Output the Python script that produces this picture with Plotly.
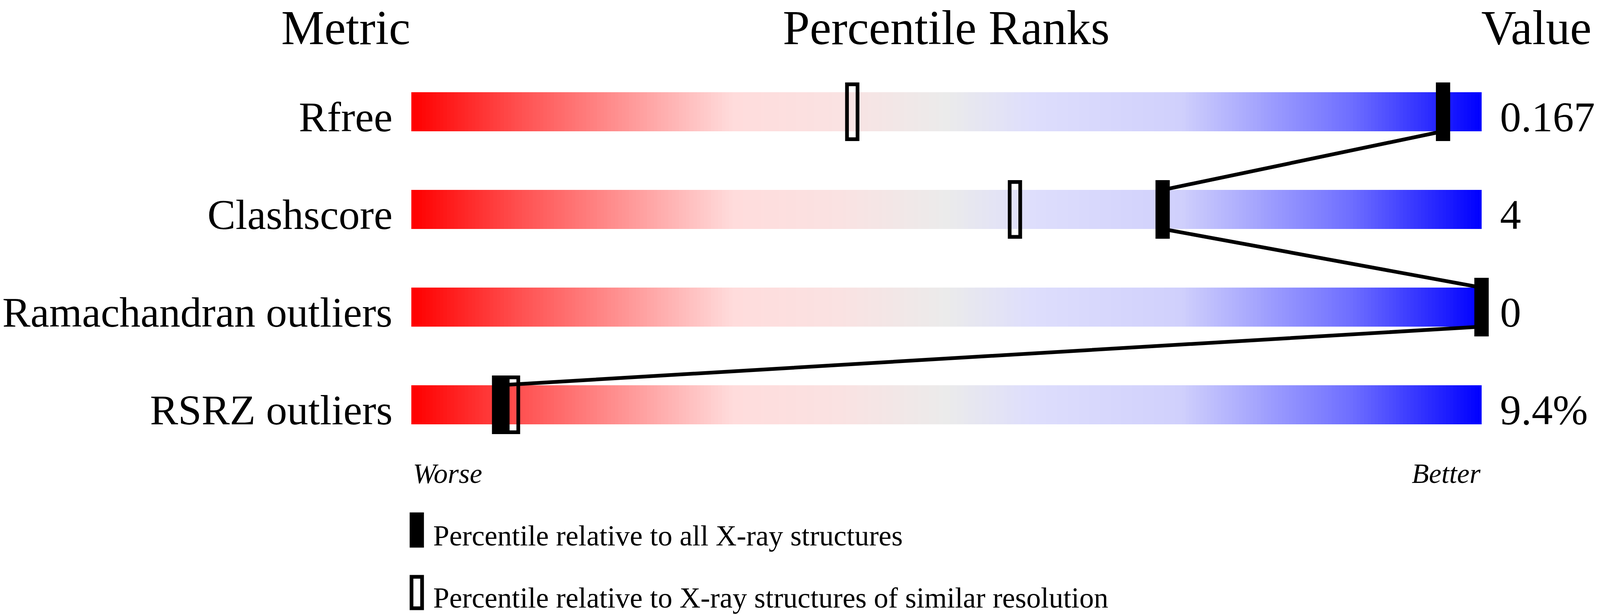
import numpy as np
import plotly.graph_objects as go

# data
metrics = ["Rfree", "Clashscore", "Ramachandran outliers", "RSRZ outliers"]
values = ["0.167", "4", "0", "9.4%"]
pct_all = [96.4, 70.2, 100.0, 8.2]        # percentile vs all X-ray structures
pct_similar = [41.2, 56.4, 100.0, 9.5]    # percentile vs similar resolution
headers = ["Metric", "Percentile Ranks", "Value"]
legend_labels = [
    "Percentile relative to all X-ray structures",
    "Percentile relative to X-ray structures of similar resolution",
]

# the browser viewport is 4096 px wide, so the 4485 px layout is squeezed sideways
W, H = 4096, 1574
K = W / 4485
X_LEFT_PX, PX_PER_PCT = 1153 * K, 30.0 * K   # bar 0..100
ROW0_PX, ROW_PX = 286, 250                   # row centres
BAR_HALF = 0.2
FONT = "Liberation Serif, Times New Roman, serif"

grad_scale = [
    [0.0, "rgb(255,0,0)"],
    [0.1, "rgb(255,80,80)"],
    [0.3, "rgb(255,220,220)"],
    [0.4, "rgb(250,226,226)"],
    [0.5, "rgb(235,235,235)"],
    [0.58, "rgb(222,222,252)"],
    [0.72, "rgb(208,208,252)"],
    [0.88, "rgb(110,110,255)"],
    [1.0, "rgb(0,0,255)"],
]


def y_px(py):
    return (py - ROW0_PX) / ROW_PX


fig = go.Figure()

n = 300
for i, m in enumerate(metrics):
    fig.add_trace(go.Heatmap(
        z=[np.linspace(0, 1, n)],
        x=np.linspace(0, 100, n + 1),
        y=[i - BAR_HALF, i + BAR_HALF],
        colorscale=grad_scale, zmin=0, zmax=1,
        showscale=False, hoverinfo="skip",
    ))

# connector through the "all structures" markers
lx, ly = [], []
for i, p in enumerate(pct_all):
    if i > 0:
        lx.append(p)
        ly.append(i - BAR_HALF)
    if i < len(pct_all) - 1:
        lx.append(p)
        ly.append(i + BAR_HALF)
fig.add_trace(go.Scatter(x=lx, y=ly, mode="lines", line=dict(color="black", width=9.5),
                         hoverinfo="skip", showlegend=False))

MW = 40 * K   # marker width


def solid(x, y, w=MW, h=150, dx=0):
    return dict(type="rect", xref="x", yref="y", xsizemode="pixel", ysizemode="pixel",
                xanchor=x, yanchor=y, x0=dx - w / 2, x1=dx + w / 2, y0=-h / 2, y1=h / 2,
                fillcolor="black", line_width=0, layer="above")


def hollow(x, y, w=MW, h=150, dx=0, b=9.5):
    return dict(type="rect", xref="x", yref="y", xsizemode="pixel", ysizemode="pixel",
                xanchor=x, yanchor=y, x0=dx - w / 2 + b / 2, x1=dx + w / 2 - b / 2,
                y0=-h / 2 + b / 2, y1=h / 2 - b / 2,
                fillcolor="rgba(0,0,0,0)", line=dict(color="black", width=b), layer="above")


shapes = []
for i in range(len(metrics)):
    shapes.append(solid(pct_all[i], i))
    shapes.append(hollow(pct_similar[i], i))
shapes.append(solid(0, y_px(1356.5), h=90, dx=14))
shapes.append(hollow(0, y_px(1516.5), h=90, dx=14))

ann = []
big, mid, wb, small = 124, 108, 72, 74
hdr_y = y_px(113 - 0.3375 * big)
ann.append(dict(x=0, y=hdr_y, text=headers[0], xanchor="right", font_size=big))
ann.append(dict(x=50, y=hdr_y, text=headers[1], xanchor="center", font_size=big))
ann.append(dict(x=100, y=hdr_y, text=headers[2], xanchor="left", xshift=-3, font_size=big))
for i, m in enumerate(metrics):
    yy = i + BAR_HALF - 0.3375 * mid / ROW_PX
    ann.append(dict(x=0, y=yy, text=m, xanchor="right", xshift=-46, font_size=mid))
    ann.append(dict(x=100, y=yy, text=values[i], xanchor="left", xshift=45, font_size=mid))
wb_y = y_px(1236 - 0.3375 * wb)
ann.append(dict(x=0, y=wb_y, text="<i>Worse</i>", xanchor="left", xshift=2, font_size=wb))
ann.append(dict(x=100, y=wb_y, text="<i>Better</i>", xanchor="right", xshift=0, font_size=wb))
ann.append(dict(x=0, y=y_px(1396 - 0.3375 * small), text=legend_labels[0],
                xanchor="left", xshift=54, font_size=small))
ann.append(dict(x=0, y=y_px(1555 - 0.3375 * small), text=legend_labels[1],
                xanchor="left", xshift=54, font_size=small))
for a in ann:
    a.update(xref="x", yref="y", showarrow=False, yanchor="middle",
             font=dict(family=FONT, color="black", size=a.pop("font_size")))

fig.update_layout(
    width=W, height=H,
    margin=dict(l=0, r=0, t=0, b=0),
    paper_bgcolor="white", plot_bgcolor="white",
    xaxis=dict(range=[-X_LEFT_PX / PX_PER_PCT, (W - X_LEFT_PX) / PX_PER_PCT],
               visible=False, fixedrange=True),
    yaxis=dict(range=[y_px(H), y_px(0)], visible=False, fixedrange=True),
    shapes=shapes, annotations=ann, showlegend=False,
)

fig.write_html("out.html", config={"displayModeBar": False},
               post_script="document.body.style.margin = '0px';")
